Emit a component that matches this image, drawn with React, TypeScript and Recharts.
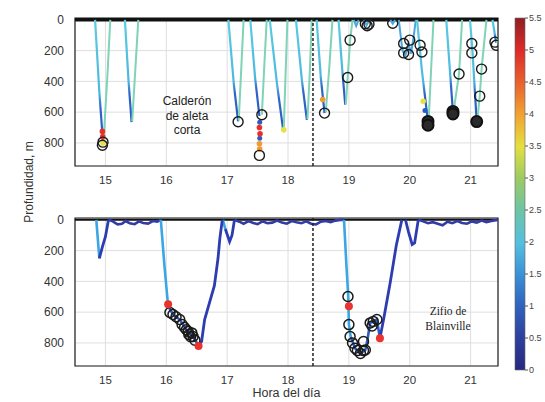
import React from "react"
import {
  ComposedChart,
  Line,
  Scatter,
  XAxis,
  YAxis,
  CartesianGrid,
  ReferenceLine,
  ReferenceArea,
  BarChart,
  Bar,
} from "recharts"

type P = [number, number]

// hour ticks / depth ticks / colorbar ticks
const hourTicks = [15, 16, 17, 18, 19, 20, 21]
const depthTicks = [0, 200, 400, 600, 800]
const colorTicks = [0, 0.5, 1, 1.5, 2, 2.5, 3, 3.5, 4, 4.5, 5, 5.5]
const boundaryHour = 18.41

// ---- Calderón de aleta corta (top) ----
const pilotSurface: P[] = [[14.5, 0], [21.45, 0]]
const pilotDescents: P[][] = [
  [[14.83, 0], [14.9, 470], [14.96, 795]],
  [[15.32, 0], [15.38, 400], [15.43, 665]],
  [[17.02, 0], [17.11, 420], [17.18, 660]],
  [[17.38, 0], [17.46, 380], [17.53, 625]],
  [[17.7, 0], [17.82, 420], [17.92, 715]],
  [[18.13, 0], [18.23, 400], [18.31, 650]],
  [[18.47, 0], [18.54, 380], [18.6, 606]],
  [[18.83, 0], [18.89, 320], [18.94, 551]],
  [[20.12, 0], [20.2, 330], [20.3, 665]],
  [[20.6, 0], [20.66, 330], [20.71, 600]],
  [[20.99, 0], [21.03, 200], [21.1, 661]],
  [[21.36, 0], [21.42, 150]],
]
const pilotAscents: P[][] = [
  [[14.97, 780], [15.03, 380], [15.08, 0]],
  [[15.44, 660], [15.49, 330], [15.54, 0]],
  [[17.19, 655], [17.23, 330], [17.27, 0]],
  [[17.57, 617], [17.61, 300], [17.65, 0]],
  [[17.93, 710], [17.96, 350], [17.99, 0]],
  [[18.32, 645], [18.36, 320], [18.39, 0]],
  [[18.62, 600], [18.68, 300], [18.73, 0]],
  [[18.95, 548], [18.98, 375], [19.02, 132], [19.06, 0]],
  [[20.31, 660], [20.35, 330], [20.39, 0]],
  [[20.72, 595], [20.81, 352], [20.86, 0]],
  [[21.11, 655], [21.15, 496], [21.18, 320], [21.26, 0]],
  [[21.42, 150], [21.45, 110]],
]
const pilotShallow: P[][] = [
  [[19.82, 0], [19.88, 200], [19.93, 230], [19.98, 150], [20.02, 220], [20.06, 120], [20.1, 0]],
  [[19.08, 0], [19.12, 40], [19.16, 0]],
  [[19.25, 0], [19.29, 35], [19.34, 0]],
  [[19.68, 0], [19.72, 25], [19.76, 0]],
]
const pilotCircles: P[] = [
  [14.96, 795], [14.95, 815], [17.18, 662], [17.57, 617], [17.53, 881],
  [18.6, 606], [18.98, 375], [19.02, 132], [19.27, 25], [19.3, 38], [19.33, 28],
  [19.72, 22], [19.9, 154], [19.9, 215], [19.98, 225], [20.0, 132], [20.17, 165],
  [20.2, 209], [20.81, 352], [21.02, 154], [21.02, 215], [21.15, 496], [21.18, 320],
  [21.4, 145], [21.42, 165],
]
const pilotFilled: P[] = [[20.3, 660], [20.3, 685], [20.71, 595], [20.71, 612], [21.1, 661]]
const pilotRed: P[] = [[14.95, 725], [14.955, 760], [17.53, 700], [17.54, 740]]
const pilotOrange: P[] = [[17.53, 805], [17.535, 840], [18.57, 518]]
const pilotYellow: P[] = [[14.96, 800], [17.93, 715], [20.22, 529]]
const pilotBlueDots: P[] = [[17.535, 665], [17.535, 770], [20.25, 590]]

// ---- Zifio de Blainville (bottom) ----
const beakedSurface: P[] = [[14.5, 0], [21.45, 0]]
const beakedWiggles: P[][] = [
  [[15.05, 0], [15.12, 10], [15.2, 30], [15.27, 25], [15.33, 8], [15.4, 22], [15.48, 28], [15.55, 10], [15.62, 20], [15.7, 24], [15.78, 8], [15.85, 12], [15.91, 0]],
  [[17.12, 0], [17.2, 12], [17.27, 25], [17.35, 8], [17.43, 20], [17.5, 28], [17.58, 10], [17.66, 22], [17.74, 18], [17.82, 5], [17.9, 18], [17.98, 25], [18.06, 8], [18.14, 16], [18.22, 22], [18.3, 10], [18.38, 25], [18.46, 30], [18.54, 12], [18.62, 8], [18.7, 15], [18.78, 5], [18.86, 0], [18.92, 0]],
  [[20.14, 0], [20.22, 10], [20.3, 22], [20.38, 15], [20.46, 25], [20.54, 35], [20.62, 12], [20.7, 22], [20.78, 8], [20.86, 20], [20.94, 25], [21.02, 10], [21.1, 18], [21.18, 5], [21.26, 15], [21.34, 8], [21.45, 0]],
]
const beakedDescents: P[][] = [
  [[14.85, 0], [14.9, 250]],
  [[15.91, 0], [15.97, 300], [16.03, 560]],
  [[16.93, 0], [16.97, 60]],
  [[18.92, 0], [18.96, 300], [18.99, 500], [19.0, 680], [19.03, 760]],
]
const beakedBottoms: P[][] = [
  [[16.03, 560], [16.11, 615], [16.22, 648], [16.33, 714], [16.44, 758], [16.53, 818]],
  [[19.03, 760], [19.1, 835], [19.19, 868], [19.27, 846], [19.3, 790], [19.35, 670], [19.46, 648], [19.51, 769]],
]
const beakedAscents: P[][] = [
  [[14.9, 250], [14.95, 175], [15.0, 110], [15.05, 0]],
  [[16.53, 818], [16.58, 790], [16.63, 648], [16.79, 428], [16.85, 250], [16.88, 120], [16.92, 0]],
  [[16.97, 60], [17.04, 141], [17.08, 100], [17.12, 0]],
  [[19.51, 769], [19.57, 648], [19.68, 405], [19.78, 163], [19.87, 0]],
  [[19.93, 0], [19.98, 80], [20.04, 160], [20.08, 150], [20.14, 0]],
]
const beakedCircles: P[] = [
  [16.06, 602], [16.11, 615], [16.16, 630], [16.22, 648], [16.26, 680], [16.3, 700],
  [16.33, 714], [16.36, 725], [16.37, 745], [16.4, 760], [16.42, 735], [16.44, 758], [16.47, 782],
  [18.985, 498], [19.0, 681], [19.02, 758], [19.06, 800], [19.1, 835], [19.14, 850],
  [19.19, 868], [19.24, 850], [19.27, 846], [19.24, 791], [19.35, 670], [19.4, 660],
  [19.46, 648], [19.38, 690],
]
const beakedRed: P[] = [[16.03, 548], [16.53, 820], [19.0, 562], [19.51, 769]]

const FONT = '"Liberation Sans", Arial, sans-serif'
const X_DOMAIN: [number, number] = [14.5, 21.45]
const Y_DOMAIN: [number, number] = [-12, 950]

const pts = (a: P[]) => a.map(([h, d]) => ({ h, d }))

const ring = (stroke: string, fill: string, r: number, w: number) => (props: any) =>
  <circle cx={props.cx} cy={props.cy} r={r} fill={fill} stroke={stroke} strokeWidth={w} />

function Panel({ top, children, xLabel }: { top: number; children: React.ReactNode; xLabel?: boolean }) {
  const height = xLabel ? 202 : 186
  return (
    <div style={{ position: "absolute", left: 0, top }}>
      <ComposedChart width={545} height={height} margin={{ top: 18, right: 47, bottom: 0, left: 0 }}>
        <defs>
          <linearGradient id="descTop" x1="0" y1="0" x2="0" y2="1">
            <stop offset="0" stopColor="#5ccbe0" />
            <stop offset="0.6" stopColor="#4cb8e0" />
            <stop offset="0.72" stopColor="#2f66c8" />
            <stop offset="1" stopColor="#2a5cc4" />
          </linearGradient>
        </defs>
        <CartesianGrid stroke="#dedede" strokeWidth={1} />
        <XAxis
          dataKey="h"
          type="number"
          domain={X_DOMAIN}
          ticks={hourTicks}
          allowDataOverflow
          height={xLabel ? 36 : 20}
          tickLine={false}
          axisLine={false}
          tickMargin={4}
          tick={{ fontSize: 11.5, fill: "#333", fontFamily: FONT }}
          label={xLabel ? { value: "Hora del día", position: "insideBottom", offset: 5, fontSize: 12.5, fill: "#333", fontFamily: FONT } : undefined}
        />
        <YAxis
          dataKey="d"
          type="number"
          reversed
          domain={Y_DOMAIN}
          ticks={depthTicks}
          allowDataOverflow
          width={75}
          tickLine={false}
          axisLine={false}
          tickMargin={5}
          tick={{ fontSize: 12, fill: "#333", fontFamily: FONT }}
        />
        {children}
        <ReferenceLine x={boundaryHour} stroke="#222" strokeWidth={1.5} strokeDasharray="3 2" />
        <ReferenceArea x1={X_DOMAIN[0]} x2={X_DOMAIN[1]} y1={Y_DOMAIN[0]} y2={Y_DOMAIN[1]} fill="none" stroke="#222" strokeWidth={1.2} ifOverflow="visible" />
      </ComposedChart>
    </div>
  )
}

function ColorBar() {
  return (
    <div style={{ position: "absolute", left: 505, top: 10 }}>
      <BarChart width={42} height={368} data={[{ name: "c", v: 5.5 }]} margin={{ top: 8, right: 0, bottom: 8, left: 10 }} barCategoryGap={0}>
        <defs>
          <linearGradient id="jet" x1="0" y1="1" x2="0" y2="0">
            <stop offset="0" stopColor="#27287e" />
            <stop offset="0.09" stopColor="#2e3f9e" />
            <stop offset="0.18" stopColor="#2f62bc" />
            <stop offset="0.27" stopColor="#3a90d6" />
            <stop offset="0.36" stopColor="#55bfe0" />
            <stop offset="0.45" stopColor="#6cc4a8" />
            <stop offset="0.545" stopColor="#9ccb62" />
            <stop offset="0.636" stopColor="#e6df3e" />
            <stop offset="0.727" stopColor="#f0a232" />
            <stop offset="0.818" stopColor="#e9602e" />
            <stop offset="0.91" stopColor="#dd2a28" />
            <stop offset="1" stopColor="#8e1f22" />
          </linearGradient>
        </defs>
        <XAxis dataKey="name" hide />
        <YAxis
          orientation="right"
          type="number"
          domain={[0, 5.5]}
          ticks={colorTicks}
          width={22}
          axisLine={false}
          tickSize={3}
          tickLine={{ stroke: "#555" }}
          tickMargin={1}
          tick={{ fontSize: 9, fill: "#444", fontFamily: FONT }}
        />
        <Bar dataKey="v" fill="url(#jet)" stroke="#666" strokeWidth={0.6} isAnimationActive={false} />
      </BarChart>
    </div>
  )
}

function lines(groups: P[][], stroke: string, width: number, key: string) {
  return groups.map((g, i) => (
    <Line key={key + i} data={pts(g)} dataKey="d" type="linear" stroke={stroke} strokeWidth={width} dot={false} activeDot={false} isAnimationActive={false} />
  ))
}

function dots(data: P[], shape: any, key: string) {
  return <Scatter key={key} data={pts(data)} dataKey="d" shape={shape} isAnimationActive={false} />
}

export default function App() {
  return (
    <div style={{ position: "absolute", left: 0, top: 0, width: 545, height: 402, background: "#fff", fontFamily: FONT }}>
      <Panel top={0}>
        {lines([pilotSurface], "#111", 3.5, "ps")}
        {lines(pilotShallow, "#4aa6dc", 2, "sh")}
        {lines(pilotDescents, "url(#descTop)", 2.2, "pd")}
        {lines(pilotAscents, "#7fd3b6", 2, "pa")}
        {dots(pilotBlueDots, ring("none", "#2a5cc4", 2.5, 0), "pb")}
        {dots(pilotRed, ring("none", "#e8302a", 2.8, 0), "pr")}
        {dots(pilotOrange, ring("none", "#f09a30", 2.8, 0), "po")}
        {dots(pilotYellow, ring("none", "#e8e040", 2.8, 0), "py")}
        {dots(pilotFilled, ring("#111", "#2a2a2a", 5.5, 2), "pf")}
        {dots(pilotCircles, ring("#1a1a1a", "none", 5, 1.4), "pc")}
      </Panel>
      <Panel top={200} xLabel>
        {lines([beakedSurface], "#111", 2, "bs")}
        {lines(beakedWiggles, "#333ca6", 2.6, "bw")}
        {lines(beakedDescents, "#3aa6e4", 2.6, "bd")}
        {lines(beakedBottoms, "#2f5cc0", 2.6, "bb")}
        {lines(beakedAscents, "#2d3cb0", 2.8, "ba")}
        {dots(beakedCircles, ring("#1a1a1a", "none", 5, 1.5), "bc")}
        {dots(beakedRed, ring("none", "#e8342c", 4, 0), "br")}
      </Panel>
      <ColorBar />
      <div style={{ position: "absolute", left: 137, top: 94, width: 100, textAlign: "center", fontSize: 12, lineHeight: "14.5px", color: "#222" }}>
        Calderón<br />de aleta<br />corta
      </div>
      <div style={{ position: "absolute", left: 398, top: 304, width: 100, textAlign: "center", fontSize: 11.5, lineHeight: "15px", color: "#222", fontFamily: '"Liberation Serif", "DejaVu Serif", serif' }}>
        Zifio de<br />Blainville
      </div>
      <div style={{ position: "absolute", left: 29, top: 182, transform: "translate(-50%, -50%) rotate(-90deg)", whiteSpace: "nowrap", fontSize: 12, color: "#333" }}>
        Profundidad, m
      </div>
    </div>
  )
}
